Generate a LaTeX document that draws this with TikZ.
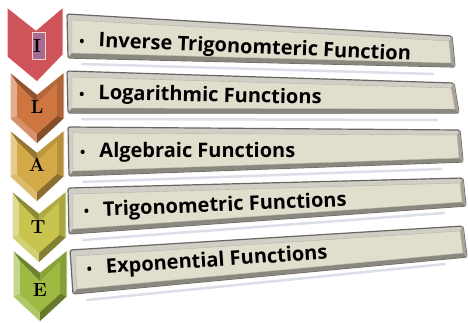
\documentclass[tikz,border=0pt]{standalone}
\usepackage{fontspec}
\newfontfamily\barfont{Open Sans}
\usetikzlibrary{calc}
\definecolor{chevI}{RGB}{207,84,90}
\definecolor{chevL}{RGB}{205,118,66}
\definecolor{chevA}{RGB}{212,170,72}
\definecolor{chevT}{RGB}{200,196,78}
\definecolor{chevE}{RGB}{158,186,66}
\definecolor{barface}{RGB}{226,222,206}
\definecolor{barrim}{RGB}{208,206,198}
\definecolor{barline}{RGB}{105,103,96}
\definecolor{barshade}{RGB}{138,135,126}
\definecolor{barglow}{RGB}{220,223,232}
\definecolor{hlpurple}{RGB}{168,108,145}
\tikzset{functext/.style={anchor=base west,inner sep=0pt,text=black,
			font=\barfont\bfseries\fontsize{20}{20}\selectfont},
	letter/.style={inner sep=0pt,text=black,font=\fontsize{19}{19}\selectfont\bfseries}}
\newcommand{\dotb}{{\fontsize{14}{14}\selectfont\textbullet}\hspace{14pt}}
\newcommand{\chev}[3]{\begin{scope}[shift={(#2,#3)}]
		\fill[#1!80!black] (0,0)--(27,22)--(54,0)--(54,47)--(27,72)--(0,47)--cycle;
		\fill[#1!60!white] (0,0)--(7,11)--(7,44)--(0,47)--cycle;
		\fill[#1!80!white] (0,47)--(7,44)--(27,62)--(27,72)--cycle;
		\fill[#1!70!black] (0,0)--(27,22)--(27,31)--(7,11)--cycle;
		\fill[#1!88!black] (27,22)--(54,0)--(47,11)--(27,31)--cycle;
		\fill[#1!85!black] (54,0)--(54,47)--(47,44)--(47,11)--cycle;
		\fill[#1!65!black] (54,47)--(27,72)--(27,62)--(47,44)--cycle;
		\fill[#1] (7,11)--(27,31)--(47,11)--(47,44)--(27,62)--(7,44)--cycle;
		\draw[white,line width=1pt] (0,0)--(27,22)--(54,0)--(54,47)--(27,72)--(0,47)--cycle;
	\end{scope}}
\newcommand{\funcbar}[4]{%
	\draw[barglow,line width=2.5pt,line cap=round] ($(#4)+(10,11)$) -- ($(#3)+(-18,11)$);
	\filldraw[fill=barrim,draw=barline,line width=1.2pt,rounded corners=2pt] ($(#1)+(-5,-6)$) -- ($(#2)+(3,-5)$) -- ($(#3)+(4,4)$) -- ($(#4)+(-4,5)$) -- cycle;
	\fill[barshade] (#4) -- (#3) -- ($(#3)+(4,4)$) -- ($(#4)+(-4,5)$) -- cycle;
	\fill[barshade!60!barrim] (#2) -- ($(#2)+(3,-5)$) -- ($(#3)+(4,4)$) -- (#3) -- cycle;
	\filldraw[fill=barface,draw=barface!80!black,line width=0.4pt] (#1) -- (#2) -- (#3) -- (#4) -- cycle;}

\begin{document}
\begin{tikzpicture}[x=1pt,y=-1pt]
	\useasboundingbox (0,0) rectangle (468,322);
	\fill[white] (0,0) rectangle (468,322);
	\funcbar{72,20}{449,41}{451,63}{72,53}
	\funcbar{72,77}{451,88}{455,109}{72,108}
	\funcbar{73,133}{457,135}{459,158}{73,171}
	\funcbar{73,194}{460,183}{462,202}{73,229}
	\funcbar{75,256}{460,231}{463,253}{77,289}
	\fill[chevI] (7,7)--(36,30)--(63,7)--(63,55)--(37,82)--(7,57)--cycle;
	\draw[white,line width=1pt] (7,7)--(36,30)--(63,7)--(63,55)--(37,82)--(7,57)--cycle;
	\filldraw[fill=hlpurple,draw=pink!70!white,line width=0.6pt] (32,32) rectangle (45,59);
	\chev{chevL}{10}{72}
	\chev{chevA}{10}{130}
	\chev{chevT}{12}{191}
	\chev{chevE}{13}{250}
	\node[letter] (lI) at (37,46) {I};
	\node[letter] (lL) at (37,107) {L};
	\node[letter] (lA) at (37,165) {A};
	\node[letter] (lT) at (38,227) {T};
	\node[letter] (lE) at (40,290) {E};
	\node[functext,rotate=-2.5] (f1) at (79,46) {\dotb Inverse Trigonomteric Function};
	\node[functext,rotate=-1.2] (f2) at (79,99) {\dotb Logarithmic Functions};
	\node[functext] (f3) at (80,157) {\dotb Algebraic Functions};
	\node[functext,rotate=2.3] (f4) at (84,217) {\dotb Trigonometric Functions};
	\node[functext,rotate=3.8] (f5) at (87,275) {\dotb Exponential Functions};
\end{tikzpicture}
\end{document}
